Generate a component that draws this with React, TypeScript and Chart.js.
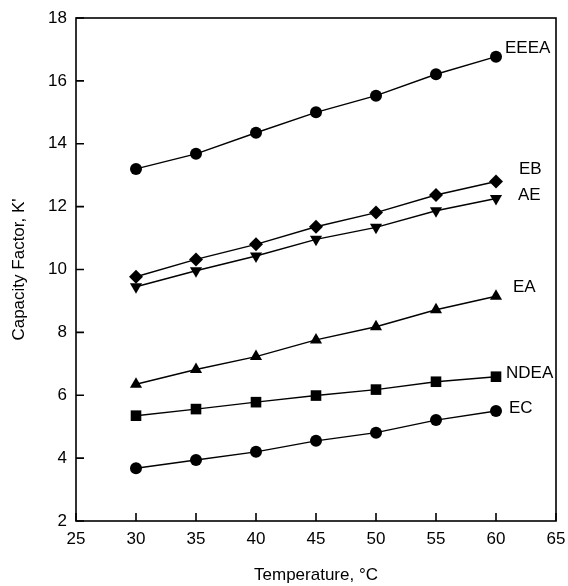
import React, { useEffect, useRef } from "react";
import { Chart, registerables } from "chart.js";

Chart.register(...registerables);

const temps = [30, 35, 40, 45, 50, 55, 60];
const eeea = [13.2, 13.68, 14.35, 15.0, 15.53, 16.21, 16.77];
const eb = [9.77, 10.32, 10.8, 11.36, 11.81, 12.37, 12.8];
const ae = [9.45, 9.96, 10.43, 10.96, 11.34, 11.87, 12.26];
const ea = [6.35, 6.82, 7.23, 7.76, 8.18, 8.72, 9.15];
const ndea = [5.35, 5.56, 5.78, 5.99, 6.18, 6.43, 6.59];
const ec = [3.68, 3.94, 4.2, 4.55, 4.81, 5.21, 5.5];
const seriesNames = ["EEEA", "EB", "AE", "EA", "NDEA", "EC"];
const xTicks = [25, 30, 35, 40, 45, 50, 55, 60, 65];
const yTicks = [2, 4, 6, 8, 10, 12, 14, 16, 18];

const FONT = "'Liberation Sans', Arial, sans-serif";

const styles = [
  { pointStyle: "circle", radius: 6, rotation: 0, dx: 9, dy: -8 },
  { pointStyle: "rectRot", radius: 7, rotation: 0, dx: 23, dy: -12 },
  { pointStyle: "triangle", radius: 7, rotation: 180, dx: 22, dy: -3 },
  { pointStyle: "triangle", radius: 7, rotation: 0, dx: 17, dy: -9 },
  { pointStyle: "rect", radius: 7.5, rotation: 0, dx: 10, dy: -3 },
  { pointStyle: "circle", radius: 6, rotation: 0, dx: 13, dy: -3 },
];

const boxAndTicks = {
  id: "boxAndTicks",
  afterDatasetsDraw(chart: any) {
    const { ctx, chartArea } = chart;
    const xs = chart.scales.x;
    const ys = chart.scales.y;
    ctx.save();
    ctx.strokeStyle = "#000";
    ctx.lineWidth = 1.6;
    ctx.strokeRect(chartArea.left, chartArea.top, chartArea.right - chartArea.left, chartArea.bottom - chartArea.top);
    ctx.beginPath();
    for (const v of xTicks) {
      const px = xs.getPixelForValue(v);
      ctx.moveTo(px, chartArea.bottom);
      ctx.lineTo(px, chartArea.bottom - 8);
    }
    for (const v of yTicks) {
      const py = ys.getPixelForValue(v);
      ctx.moveTo(chartArea.left, py);
      ctx.lineTo(chartArea.left + 8, py);
    }
    ctx.stroke();
    ctx.fillStyle = "#000";
    ctx.font = `17px ${FONT}`;
    ctx.textBaseline = "middle";
    ctx.textAlign = "left";
    chart.data.datasets.forEach((ds: any, i: number) => {
      const meta = chart.getDatasetMeta(i);
      const pt = meta.data[meta.data.length - 1];
      ctx.fillText(ds.label, pt.x + styles[i].dx, pt.y + styles[i].dy);
    });
    ctx.restore();
  },
};

export default function App() {
  const ref = useRef<HTMLCanvasElement>(null);
  useEffect(() => {
    document.body.style.margin = "0";
    const all = [eeea, eb, ae, ea, ndea, ec];
    const chart = new Chart(ref.current!, {
      type: "line",
      data: {
        datasets: all.map((vals, i) => ({
          label: seriesNames[i],
          data: temps.map((t, j) => ({ x: t, y: vals[j] })),
          borderColor: "#000",
          backgroundColor: "#000",
          borderWidth: 1.4,
          pointStyle: styles[i].pointStyle as any,
          pointRadius: styles[i].radius,
          pointRotation: styles[i].rotation,
          pointBorderWidth: 0,
          tension: 0,
        })),
      },
      options: {
        animation: false,
        responsive: false,
        layout: { padding: { top: 18, right: 12, left: 9, bottom: 0 } },
        plugins: { legend: { display: false }, tooltip: { enabled: false } },
        scales: {
          x: {
            type: "linear",
            min: 25,
            max: 65,
            afterBuildTicks: (s: any) => { s.ticks = xTicks.map((v) => ({ value: v })); },
            afterFit: (s: any) => { s.height = 65; },
            ticks: { color: "#000", font: { family: FONT, size: 17 }, padding: 0 },
            grid: { display: false },
            border: { display: false },
            title: { display: true, text: "Temperature, °C", color: "#000", font: { family: FONT, size: 17 }, padding: { top: 0, bottom: 0 } },
          },
          y: {
            type: "linear",
            min: 2,
            max: 18,
            afterBuildTicks: (s: any) => { s.ticks = yTicks.map((v) => ({ value: v })); },
            afterFit: (s: any) => { s.width = 67; },
            ticks: { color: "#000", font: { family: FONT, size: 17 }, padding: 1 },
            grid: { display: false },
            border: { display: false },
            title: { display: true, text: "Capacity Factor, K'", color: "#000", font: { family: FONT, size: 17 }, padding: { top: 0, bottom: 0 } },
          },
        },
      },
      plugins: [boxAndTicks],
    });
    return () => chart.destroy();
  }, []);
  return (
    <div style={{ width: 568, height: 586, background: "#fff" }}>
      <canvas ref={ref} width={568} height={586} style={{ display: "block" }} />
    </div>
  );
}
